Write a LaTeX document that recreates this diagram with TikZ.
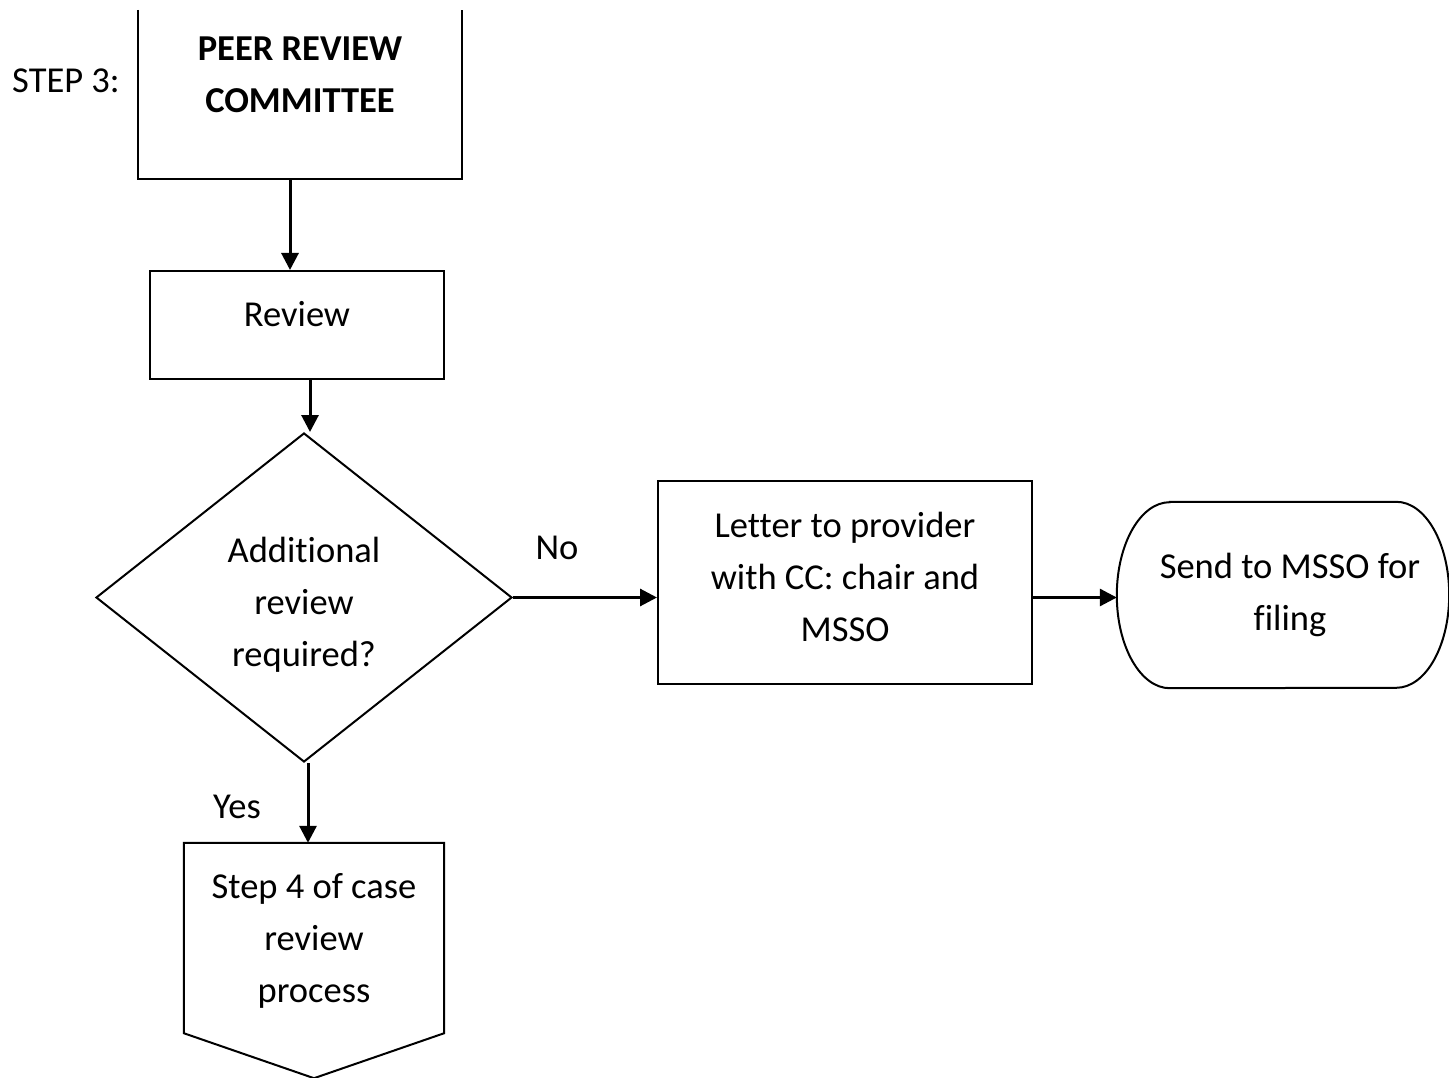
\documentclass[tikz,border=0pt]{standalone}
\usepackage{fontspec}
\setmainfont{Carlito}[Ligatures={NoCommon,NoContextual}]
\usetikzlibrary{arrows.meta,shapes.geometric}
\tikzset{
  shapebox/.style={draw=black, line width=2pt, inner sep=0pt},
  plain/.style={inner sep=0pt},
  txt/.style={inner sep=0pt, align=center, text=black, font=\fontsize{36.5}{52}\selectfont},
  arr/.style={line width=3pt, -{Triangle[length=17pt,width=17pt]}},
}
\begin{document}
\begin{tikzpicture}[x=1pt,y=-1pt]
\useasboundingbox[fill=white] (0,0) rectangle (1449,1078);

% top box (open at top)
\node[plain, minimum width=324pt, minimum height=169pt] (prc) at (300,94.5) {};
\draw[line width=2pt] (prc.north west) -- (prc.south west) -- (prc.south east) -- (prc.north east);
\node[txt, font=\fontsize{36.5}{52}\selectfont\bfseries] (prctext) at (300,75) {PEER REVIEW\\COMMITTEE};
\node[txt] (step3) at (66,81) {STEP 3:};

% review
\node[shapebox, minimum width=294pt, minimum height=108pt] (review) at (297,325) {};
\node[txt] (reviewtext) at (297,314) {Review};

% diamond
\node[shapebox, diamond, minimum width=416pt, minimum height=329pt] (dia) at (304,597.5) {};
\node[txt] (diatext) at (304,605) {Additional\\review\\required?};

% letter
\node[shapebox, minimum width=374pt, minimum height=203pt] (letter) at (845,582.5) {};
\node[txt] (lettertext) at (845,577) {Letter to provider\\with CC: chair and\\MSSO};

% terminal
\node[plain, minimum width=332pt, minimum height=186pt] (send) at (1283,595) {};
\draw[line width=2pt] ([xshift=53pt]send.north west) -- ([xshift=-53pt]send.north east)
  arc[start angle=90, end angle=-90, x radius=53pt, y radius=93pt]
  -- ([xshift=53pt]send.south west)
  arc[start angle=270, end angle=90, x radius=53pt, y radius=93pt] -- cycle;
\node[txt] (sendtext) at (1290,595) {Send to MSSO for\\filing};

% off-page connector
\node[plain, minimum width=260pt, minimum height=235pt] (step4) at (314,960.5) {};
\draw[line width=2pt] (step4.north west) -- (step4.north east) -- ([yshift=45pt]step4.south east)
  -- (step4.south) -- ([yshift=45pt]step4.south west) -- cycle;
\node[txt] (step4text) at (314,941) {Step 4 of case\\review\\process};

% labels
\node[txt] (no) at (557,548) {No};
\node[txt] (yes) at (237,807) {Yes};

% connectors
\draw[arr] ([xshift=-10pt]prc.south) -- ([xshift=-7pt]review.north);
\draw[arr] ([xshift=13pt]review.south) -- ([xshift=13pt]review.south |- dia.north);
\draw[arr] (dia.east) -- (letter.west |- dia.east);
\draw[arr] (letter.east |- dia.east) -- (send.west |- dia.east);
\draw[arr] ([xshift=4pt]dia.south) -- ([xshift=-6pt]step4.north);
\end{tikzpicture}
\end{document}
